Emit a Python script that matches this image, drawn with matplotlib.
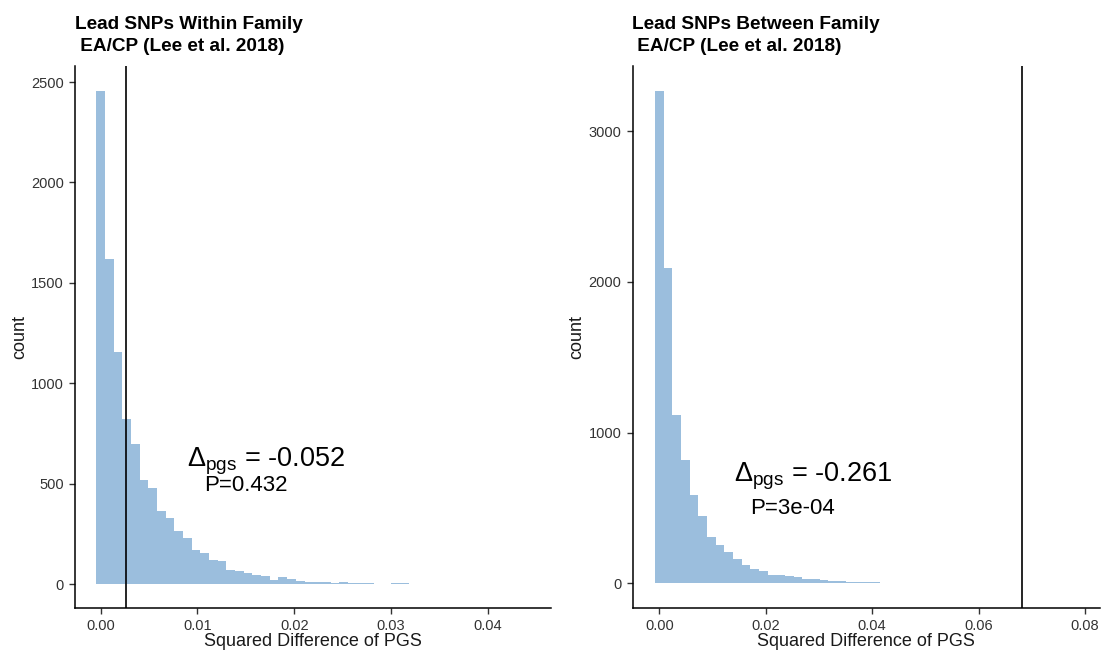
import matplotlib
matplotlib.use("Agg")
import matplotlib.pyplot as plt
import numpy as np

plt.rcParams['font.family'] = ['Liberation Sans', 'DejaVu Sans']
plt.rcParams['mathtext.fontset'] = 'custom'
plt.rcParams['mathtext.rm'] = 'Liberation Sans'
plt.rcParams['mathtext.it'] = 'Liberation Sans:italic'
plt.rcParams['mathtext.bf'] = 'Liberation Sans:bold'
plt.rcParams['mathtext.default'] = 'regular'

# ---- data ----
within_binwidth = 0.000896
within_counts = [2455, 1618, 1157, 820, 696, 518, 476, 364, 327, 264,
                 227, 169, 156, 120, 115, 70, 63, 55, 45, 41,
                 22, 37, 25, 17, 8, 8, 10, 5, 12, 3,
                 7, 3, 1, 2, 3, 3, 0, 0, 1, 0,
                 0, 0, 0, 0, 1]
within_obs = 0.00265
within_delta = "-0.052"
within_p = "P=0.432"

between_binwidth = 0.001628
between_counts = [3265, 2093, 1115, 815, 586, 447, 309, 252, 205, 158,
                  120, 95, 80, 55, 52, 50, 44, 31, 27, 20,
                  16, 13, 11, 9, 7, 6, 1, 4, 3, 0,
                  1, 2, 0, 2, 0, 0, 0, 2]
between_obs = 0.0681
between_delta = "-0.261"
between_p = "P=3e-04"

titles = ["Lead SNPs Within Family\n EA/CP (Lee et al. 2018)",
          "Lead SNPs Between Family\n EA/CP (Lee et al. 2018)"]
xlabel = "Squared Difference of PGS"
ylabel = "count"

left_xticks = [0.00, 0.01, 0.02, 0.03, 0.04]
left_yticks = [0, 500, 1000, 1500, 2000, 2500]
right_xticks = [0.00, 0.02, 0.04, 0.06, 0.08]
right_yticks = [0, 1000, 2000, 3000]

fill = '#9BBEDD'

W, H = 1105, 652
fig = plt.figure(figsize=(W / 100, H / 100), dpi=100)

def frac(x0, x1, ytop, ybot):
    return [x0 / W, (H - ybot) / H, (x1 - x0) / W, (ybot - ytop) / H]

axL = fig.add_axes(frac(75, 550.7, 66, 608))
axR = fig.add_axes(frac(632.5, 1100, 66, 608))

def panel(ax, counts, bw, obs, delta, ptxt, title, xticks, yticks, xlim, ylim,
          dpos, ppos):
    centers = np.arange(len(counts)) * bw
    ax.bar(centers, counts, width=bw, color=fill, edgecolor='none', linewidth=0)
    ax.axvline(obs, color='black', lw=1.2)
    ax.set_xlim(*xlim)
    ax.set_ylim(*ylim)
    ax.set_xticks(xticks)
    ax.set_xticklabels([f"{v:.2f}" for v in xticks])
    ax.set_yticks(yticks)
    for s in ['top', 'right']:
        ax.spines[s].set_visible(False)
    for s in ['left', 'bottom']:
        ax.spines[s].set_linewidth(1.1)
        ax.spines[s].set_color('black')
    ax.tick_params(axis='both', length=4, width=1.0, color='#333333',
                   labelsize=10.5, labelcolor='#333333', pad=4)
    ax.set_xlabel(xlabel, fontsize=13, labelpad=0, color='#1a1a1a')
    ax.set_ylabel(ylabel, fontsize=13, labelpad=2, color='#1a1a1a')
    ax.set_title(title, loc='left', fontsize=13.7, fontweight='bold', pad=10.5,
                 linespacing=1.45)
    ax.text(dpos[0], dpos[1], r'$\Delta_{pgs}$ = ' + delta, fontsize=19.5,
            ha='center', va='center')
    ax.text(ppos[0], ppos[1], ptxt, fontsize=16, ha='center', va='center')

panel(axL, within_counts, within_binwidth, within_obs, within_delta, within_p,
      titles[0], left_xticks, left_yticks, (-0.002655, 0.04649), (-119.5, 2580),
      (0.0171, 612), (0.0150, 490))
panel(axR, between_counts, between_binwidth, between_obs, between_delta, between_p,
      titles[1], right_xticks, right_yticks, (-0.00503, 0.0828), (-164, 3432),
      (0.0289, 712), (0.0251, 495))

fig.savefig("out.png", dpi=100)
